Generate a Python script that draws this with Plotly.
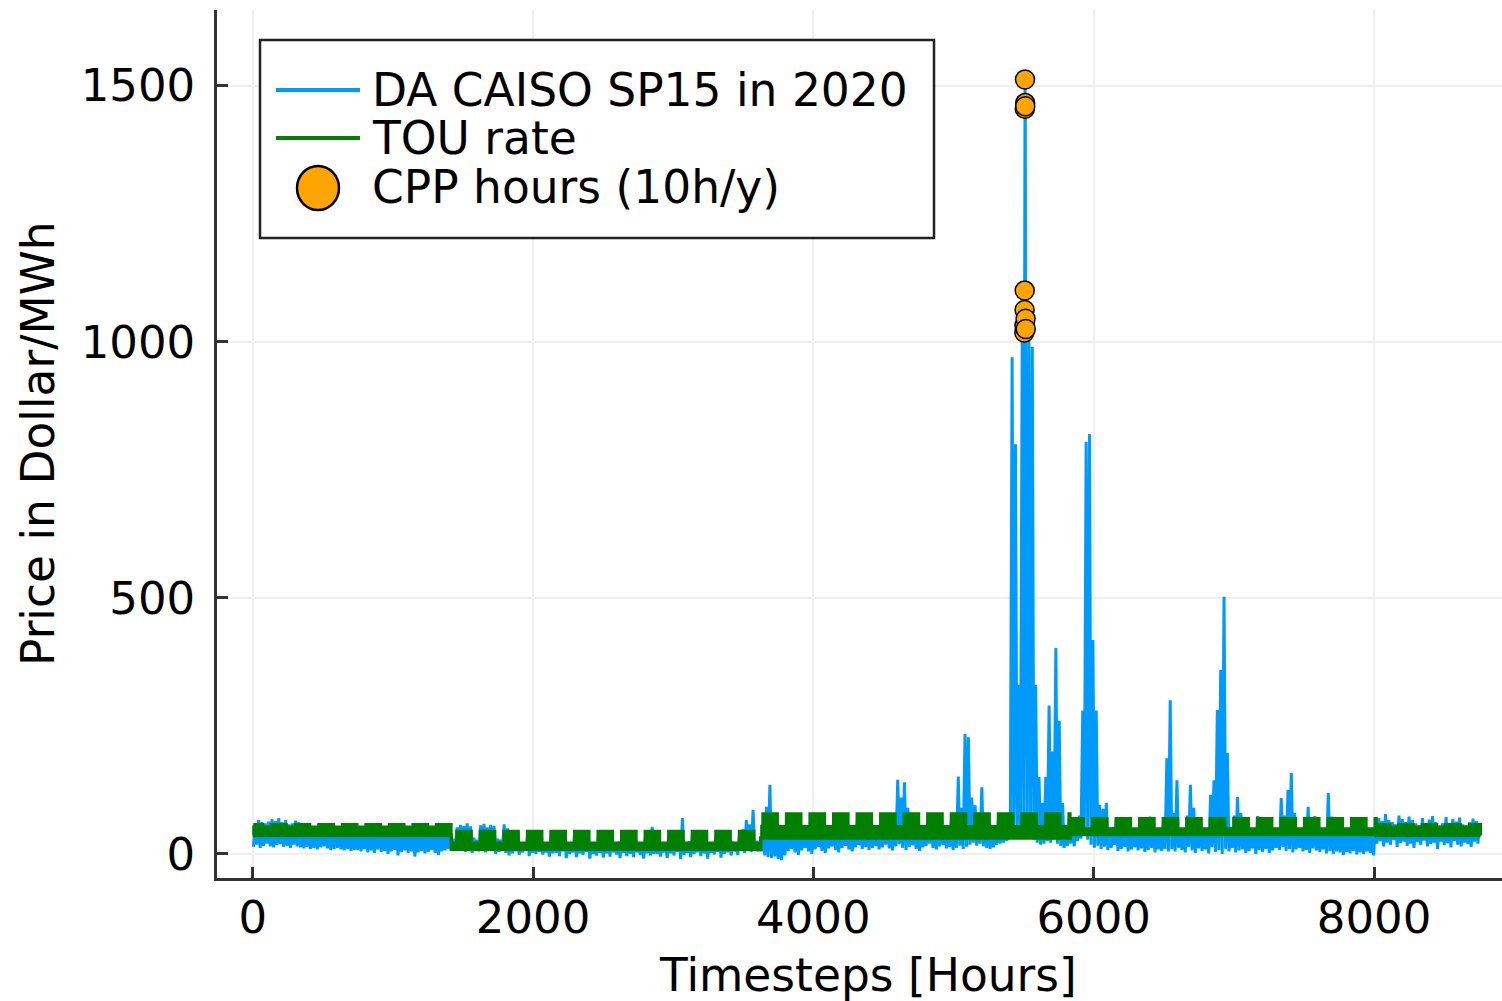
import numpy as np
import pandas as pd
import plotly.graph_objects as go

# ---------------------------------------------------------------------------
# Day-ahead CAISO SP15 price, 2020 (365 days, Feb 29 dropped).
# Each day is described by its overnight low and its evening high [$/MWh].
# ---------------------------------------------------------------------------
jan_hi = [58, 66, 62, 60, 63, 68, 64, 70, 62, 66, 58, 60, 65, 62, 57, 55, 60, 52, 54, 58, 53, 56, 57, 52, 50, 52, 55, 53, 57, 52, 54]
jan_lo = [14, 18, 12, 16, 20, 15, 13, 17, 19, 14, 16, 12, 18, 15, 13, 11, 14, 10, 12, 9, 13, 15, 11, 8, 10, 12, 9, 7, 10, 6, 8]
feb_hi = [50, 48, 52, 55, 50, 54, 53, 49, 47, 56, 52, 50, 54, 51, 48, 46, 53, 51, 55, 49, 52, 47, 45, 53, 50, 48, 52, 55]
feb_lo = [8, 5, 10, 3, 7, 2, 9, 4, 6, 0, 5, 8, -3, 4, 7, 2, 5, -5, 3, 6, 1, 4, 8, 2, -2, 5, 7, 10]
mar_hi = [30, 52, 57, 55, 60, 54, 32, 28, 56, 59, 52, 57, 55, 30, 28, 58, 50, 46, 42, 44, 22, 20, 38, 45, 41, 39, 43, 18, 22, 42, 38]
mar_lo = [10, 6, 12, 8, 4, 9, 2, 7, 5, 11, 3, 6, 8, 0, 4, 7, 2, -3, 1, 5, -2, 3, 6, -4, 2, 0, 4, -1, 3, -5, 1]
apr_hi = [38, 35, 40, 20, 18, 42, 36, 34, 39, 31, 22, 16, 35, 38, 33, 37, 41, 19, 24, 39, 32, 35, 38, 40, 21, 18, 33, 36, 53, 35]
apr_lo = [2, -4, 5, -8, 0, 3, -6, 1, -2, 4, -9, 0, -3, 2, -7, 1, -5, 3, -1, -8, 2, -4, 0, -6, 3, -2, -9, 1, -3, 0]
may_hi = [36, 20, 18, 38, 42, 37, 35, 70, 22, 25, 41, 33, 38, 40, 35, 19, 23, 39, 36, 41, 38, 44, 24, 20, 42, 48, 66, 58, 86, 26, 22]
may_lo = [0, -5, 3, -8, 1, -3, 4, -10, -2, 2, -6, 0, 3, -4, 1, -9, 2, -1, 4, -7, 0, 3, -3, 5, -2, 6, 2, 8, 4, 10, 5]
jun_hi = [60, 92, 135, 70, 58, 48, 45, 62, 66, 60, 57, 54, 50, 46, 61, 56, 52, 58, 64, 47, 52, 62, 59, 55, 60, 65, 44, 50, 63, 57]
jun_lo = [5, -3, -6, -8, -5, -10, -12, -3, 6, 10, 3, -2, 7, 12, 5, 0, 9, 14, 6, 2, 11, 15, 8, 3, 12, 16, 9, 5, 13, 17]
jul_hi = [62, 58, 65, 50, 48, 63, 68, 72, 75, 70, 145, 110, 140, 90, 70, 66, 72, 52, 49, 74, 70, 65, 71, 76, 50, 47, 70, 73, 151, 90, 234]
jul_lo = [10, 14, 8, 12, 16, 9, 13, 18, 11, 7, 15, 19, 12, 8, 14, 17, 10, 6, 13, 16, 20, 12, 9, 15, 18, 11, 14, 8, 12, 16, 10]
aug_hi = [228, 110, 95, 80, 130, 80, 72, 54, 50, 75, 78, 76, 80, 970, 800, 330, 1000, 995, 1005, 990, 330, 150, 100, 150, 290, 200, 402, 260, 100, 56, 75]
aug_lo = [14, 18, 22, 16, 20, 15, 12, 10, 13, 18, 20, 22, 25, 35, 40, 30, 45, 50, 42, 38, 28, 22, 18, 20, 25, 22, 28, 20, 15, 12, 16]
sep_hi = [66, 70, 75, 280, 805, 820, 418, 280, 96, 88, 100, 48, 52, 70, 65, 68, 72, 62, 45, 48, 69, 64, 68, 73, 67, 46, 50, 65, 187, 300]
sep_lo = [20, 15, 25, 30, 35, 28, 18, 12, 16, 10, 14, 8, 12, 18, 6, 10, 14, 5, 9, 13, 7, 11, 4, 8, 12, 3, 9, 6, 10, 5]
oct_hi = [80, 144, 50, 46, 75, 135, 90, 68, 72, 48, 45, 115, 144, 281, 359, 502, 197, 52, 75, 111, 80, 68, 72, 47, 44, 74, 66, 71, 68, 62, 48]
oct_lo = [10, 5, 12, 8, 3, 14, 7, 2, 11, 6, 9, 1, 13, 4, 8, 0, 10, 5, 12, 3, 7, 9, 2, 6, 11, 0, 8, 4, 10, 2, 7]
nov_hi = [48, 109, 75, 125, 158, 80, 46, 50, 66, 92, 70, 74, 67, 44, 49, 119, 73, 69, 64, 70, 46, 50, 68, 63, 71, 67, 65, 45, 48, 62]
nov_lo = [12, 8, 14, 6, 10, 3, 9, 12, 5, 8, 2, 11, 7, 4, 9, 1, 6, 0, 5, 3, -2, 4, 1, 6, -1, 3, 0, 5, 2, -3]
dec_hi = [70, 64, 78, 66, 62, 58, 75, 68, 62, 73, 66, 60, 56, 70, 58, 67, 74, 62, 55, 60, 72, 60, 68, 63, 71, 58, 56, 62, 69, 64, 60]
dec_lo = [20, 25, 15, 22, 18, 27, 14, 21, 24, 16, 20, 12, 23, 18, 26, 15, 19, 22, 10, 24, 17, 21, 13, 25, 18, 15, 22, 19, 14, 24, 20]

daily_high = (jan_hi + feb_hi + mar_hi + apr_hi + may_hi + jun_hi +
              jul_hi + aug_hi + sep_hi + oct_hi + nov_hi + dec_hi)
daily_low = (jan_lo + feb_lo + mar_lo + apr_lo + may_lo + jun_lo +
             jul_lo + aug_lo + sep_lo + oct_lo + nov_lo + dec_lo)
assert len(daily_high) == 365 and len(daily_low) == 365

LOW_HOUR, HIGH_HOUR = 4, 17   # hour of day of the daily low / high

# Critical peak pricing hours: the 10 most expensive hours of the year
cpp_hours = [5505, 5506, 5507, 5508, 5509, 5510, 5511, 5512, 5514, 5515]
cpp_prices = [1018, 1032, 1062, 1100, 1455, 1512, 1466, 1460, 1045, 1025]

# ---------------------------------------------------------------------------
# TOU tariff: seasonal rates [$/MWh] for off-peak, mid-peak and on-peak
# ---------------------------------------------------------------------------
season_of_month = [0, 0, 1, 1, 1, 2, 2, 2, 3, 3, 3, 0]   # winter, spring, summer, fall
off_peak_rate = [36, 9, 31, 38]
mid_peak_rate = [52, 21, 53, 49]
on_peak_rate = [57, 44, 78, 69]
mid_peak_hours = (8, 16)
on_peak_hours = (16, 21)

# ---------------------------------------------------------------------------
# Build series
# ---------------------------------------------------------------------------
stamps = pd.date_range("2020-01-01 00:00", "2020-12-31 23:00", freq="h")
stamps = stamps[~((stamps.month == 2) & (stamps.day == 29))]
timestep = np.arange(1, len(stamps) + 1)

season = np.array(season_of_month)[stamps.month.values - 1]
hod = stamps.hour.values
weekend = stamps.dayofweek.values >= 5
is_on = (hod >= on_peak_hours[0]) & (hod < on_peak_hours[1])
is_mid = (hod >= mid_peak_hours[0]) & (hod < mid_peak_hours[1])
tou = np.array(off_peak_rate, dtype=float)[season]
tou = np.where(is_mid & ~weekend, np.array(mid_peak_rate)[season], tou)
tou = np.where(is_on & ~weekend, np.array(on_peak_rate)[season], tou)
tou = np.where(is_on & weekend, np.array(mid_peak_rate)[season], tou)

price_pts = {}
for d in range(365):
    price_pts[24 * d + LOW_HOUR + 1] = daily_low[d]
    price_pts[24 * d + HIGH_HOUR + 1] = daily_high[d]
for h, p in zip(cpp_hours, cpp_prices):
    price_pts[h] = p
price_x = sorted(price_pts)
price_y = [price_pts[h] for h in price_x]

BLUE = "#009AFA"
GREEN = "#008000"
ORANGE = "#FFA500"
FONT = "DejaVu Sans"
AXIS = "#333333"

fig = go.Figure()
fig.add_trace(go.Scatter(x=price_x, y=price_y, mode="lines",
                         line=dict(color=BLUE, width=3),
                         name="DA CAISO SP15 in 2020", showlegend=False))
fig.add_trace(go.Scatter(x=timestep, y=tou, mode="lines", line_shape="hv",
                         line=dict(color=GREEN, width=3.5),
                         name="TOU rate", showlegend=False))
fig.add_trace(go.Scatter(x=cpp_hours, y=cpp_prices, mode="markers",
                         marker=dict(color=ORANGE, size=19,
                                     line=dict(color="black", width=1.5)),
                         name="CPP hours (10h/y)", showlegend=False))

# plot area geometry in pixels
L, R, T, B = 217, 1502, 10, 878
W, H = R - L, B - T

def px(xp):
    return (xp - L) / W

def py(yp):
    return (B - yp) / H

axis_common = dict(showline=True, linecolor=AXIS, linewidth=2.5,
                   ticks="inside", ticklen=11, tickwidth=2.5, tickcolor=AXIS,
                   showgrid=True, gridcolor="#efefef", gridwidth=1.5,
                   zeroline=False, tickfont=dict(family=FONT, size=45, color="black"),
                   mirror=False)

fig.update_xaxes(range=[-254.7, 8913], tickvals=[0, 2000, 4000, 6000, 8000],
                 ticktext=["0", "2000", "4000", "6000", "8000"],
                 ticklabelstandoff=-2, **axis_common)
fig.update_yaxes(range=[-46.9, 1647.8], tickvals=[0, 500, 1000, 1500],
                 ticktext=["0", "500", "1000", "1500"],
                 ticklabelstandoff=10, **axis_common)

shapes = [
    # legend frame
    dict(type="rect", xref="paper", yref="paper",
         x0=px(260), x1=px(934), y0=py(238), y1=py(40),
         line=dict(color="#222222", width=2.5), fillcolor="white", layer="above"),
    dict(type="line", xref="paper", yref="paper",
         x0=px(276), x1=px(360), y0=py(90), y1=py(90),
         line=dict(color=BLUE, width=4), layer="above"),
    dict(type="line", xref="paper", yref="paper",
         x0=px(276), x1=px(360), y0=py(138), y1=py(138),
         line=dict(color=GREEN, width=4), layer="above"),
    dict(type="circle", xref="paper", yref="paper",
         x0=px(297), x1=px(339), y0=py(210), y1=py(166),
         line=dict(color="black", width=2.5), fillcolor=ORANGE, layer="above"),
]

legend_labels = ["DA CAISO SP15 in 2020", "TOU rate", "CPP hours (10h/y)"]
legend_rows = [90, 138, 188]
annotations = []
for label, row in zip(legend_labels, legend_rows):
    annotations.append(dict(text=label, xref="paper", yref="paper",
                            x=px(370), y=py(row), xanchor="left", yanchor="middle",
                            showarrow=False, font=dict(family=FONT, size=45.5, color="black")))
annotations.append(dict(text="Timesteps [Hours]", xref="paper", yref="paper",
                        x=px(868), y=py(976), xanchor="center", yanchor="middle",
                        showarrow=False, font=dict(family=FONT, size=45.5, color="black")))
annotations.append(dict(text="Price in Dollar/MWh", xref="paper", yref="paper",
                        x=px(38), y=py(444), xanchor="center", yanchor="middle",
                        textangle=-90, showarrow=False,
                        font=dict(family=FONT, size=45.5, color="black")))

fig.update_layout(width=1502, height=1001, autosize=False,
                  margin=dict(l=L, r=1502 - R, t=T, b=1001 - B, pad=0),
                  plot_bgcolor="white", paper_bgcolor="white",
                  shapes=shapes, annotations=annotations, showlegend=False)

fig.write_html("out.html")
